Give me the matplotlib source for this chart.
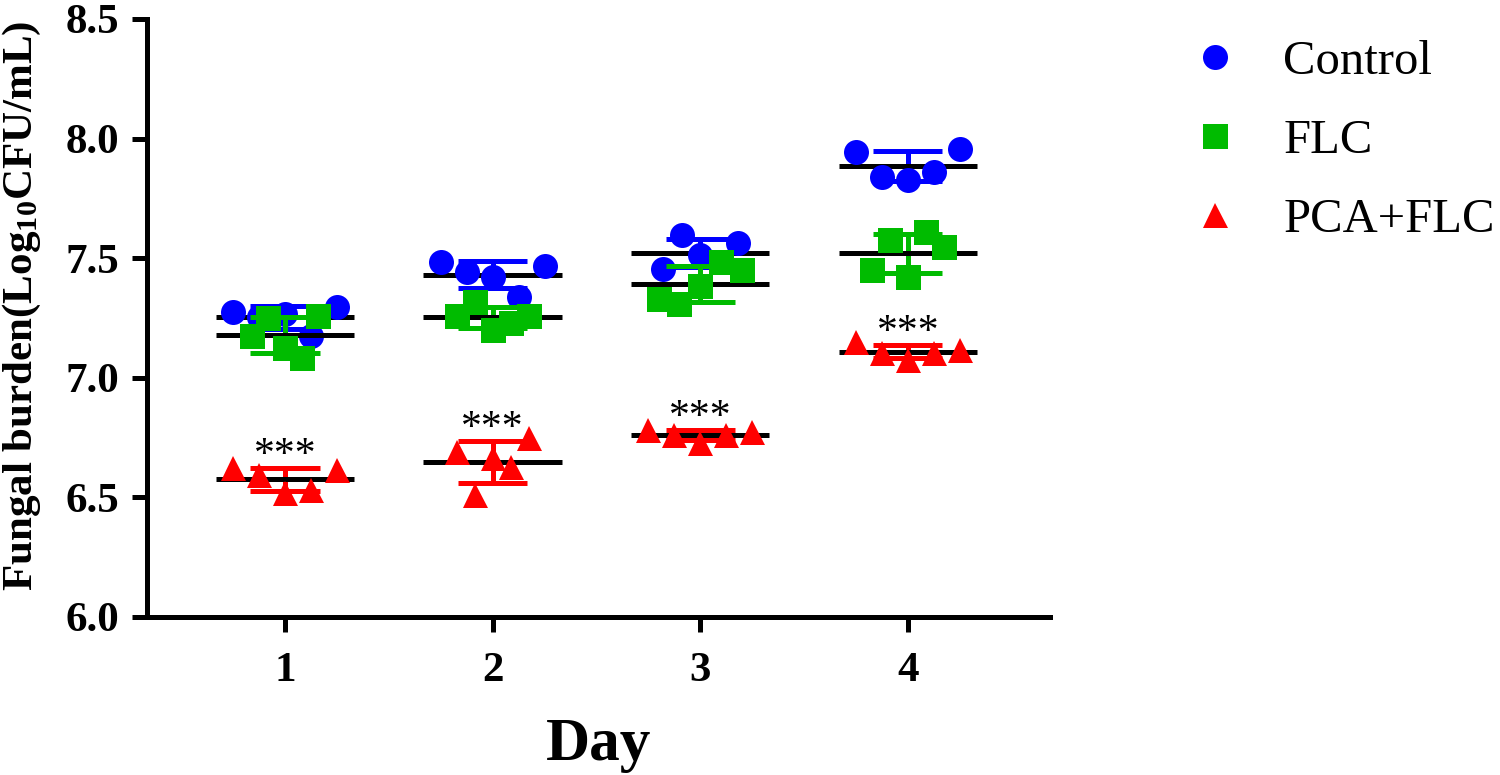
import numpy as np
import matplotlib
matplotlib.use("Agg")
import matplotlib.pyplot as plt
from matplotlib.lines import Line2D

plt.rcParams['font.family'] = ['Liberation Serif', 'DejaVu Serif']
plt.rcParams['mathtext.fontset'] = 'custom'
plt.rcParams['mathtext.rm'] = 'Liberation Serif'
plt.rcParams['mathtext.bf'] = 'Liberation Serif:bold'

# ============================================================================
# DATA (log10 CFU/mL, 5 replicates per day)
# ============================================================================

days = [1, 2, 3, 4]

control = [
    [7.277, 7.255, 7.265, 7.173, 7.298],
    [7.484, 7.442, 7.421, 7.338, 7.467],
    [7.455, 7.597, 7.513, 7.484, 7.564],
    [7.944, 7.839, 7.827, 7.860, 7.957],
]
flc = [
    [7.175, 7.250, 7.125, 7.083, 7.258],
    [7.258, 7.317, 7.200, 7.229, 7.258],
    [7.329, 7.309, 7.384, 7.484, 7.451],
    [7.451, 7.576, 7.421, 7.610, 7.547],
]
pca_flc = [
    [6.623, 6.594, 6.518, 6.531, 6.615],
    [6.690, 6.510, 6.665, 6.627, 6.748],
    [6.782, 6.761, 6.727, 6.761, 6.773],
    [7.150, 7.104, 7.074, 7.104, 7.116],
]
signif = ['***', '***', '***', '***']

# ============================================================================
# STYLE
# ============================================================================

series = [
    ('Control', control, '#0000FF', 'o'),
    ('FLC', flc, '#00BB00', 's'),
    ('PCA+FLC', pca_flc, '#FF0000', '^'),
]
# horizontal spread step of the scatter points (data units), per day
spread = {
    'Control': [0.125, 0.125, 0.09, 0.125],
    'FLC': [0.08, 0.087, 0.1, 0.087],
    'PCA+FLC': [0.125, 0.087, 0.125, 0.125],
}
MS = 18
LW = 3.6
MEAN_HALF = 1 / 3
CAP_HALF = 1 / 6

fig = plt.figure(figsize=(15, 7.75), dpi=100)
ax = fig.add_axes([0.098, 0.2039, 0.602, 0.7716])

z = 2
for name, vals, color, marker in series:
    for i, d in enumerate(days):
        v = np.array(vals[i])
        m = v.mean()
        sd = v.std(ddof=1)
        # SD error bar
        ax.vlines(d, m - sd, m + sd, color=color, lw=LW, zorder=z)
        ax.hlines([m - sd, m + sd], d - CAP_HALF, d + CAP_HALF, color=color, lw=LW, zorder=z)
        # mean line
        ax.hlines(m, d - MEAN_HALF, d + MEAN_HALF, color='black', lw=LW, zorder=z + 0.1)
        # points spread evenly around the day
        offs = (np.arange(len(v)) - (len(v) - 1) / 2) * spread[name][i]
        ax.plot(d + offs, v, ls='none', marker=marker, ms=MS, mfc=color, mec=color,
                mew=0, zorder=z + 0.2)
        if name == 'PCA+FLC':
            ax.text(d, m + sd + 0.05, signif[i], ha='center', va='center',
                    fontsize=30, zorder=z + 0.3)
    z += 1

ax.set_xlim(0.335, 4.685)
ax.set_ylim(6.0, 8.5)
ax.set_xticks(days)
ax.set_yticks(np.arange(6.0, 8.51, 0.5))
ax.set_yticklabels([f"{t:.1f}" for t in np.arange(6.0, 8.51, 0.5)])
ax.spines['top'].set_visible(False)
ax.spines['right'].set_visible(False)
for s in ['left', 'bottom']:
    ax.spines[s].set_linewidth(LW)
ax.tick_params(axis='both', length=11, width=LW, labelsize=31)
ax.tick_params(axis='y', pad=9)
ax.tick_params(axis='x', pad=14)
for lbl in ax.get_xticklabels() + ax.get_yticklabels():
    lbl.set_fontweight('bold')

ax.set_xlabel('Day', fontsize=44, fontweight='bold', labelpad=20)
fig.text(22 / 1500, 0.606, r'Fungal burden(Log$\mathregular{_{10}}$CFU/mL)',
         rotation=90, ha='center', va='center', fontsize=31, fontweight='bold')

handles = [Line2D([], [], ls='none', marker=mk, ms=MS, mfc=c, mec=c, mew=0)
           for _, _, c, mk in series]
labels = [s[0] for s in series]
fig.legend(handles, labels, loc='upper left', bbox_to_anchor=(1191 / 1500, 1 - 40 / 775),
           frameon=False, fontsize=35, handlelength=1.0, handletextpad=0.9,
           labelspacing=0.72, borderpad=0, borderaxespad=0)

fig.savefig('out.png', dpi=100)
